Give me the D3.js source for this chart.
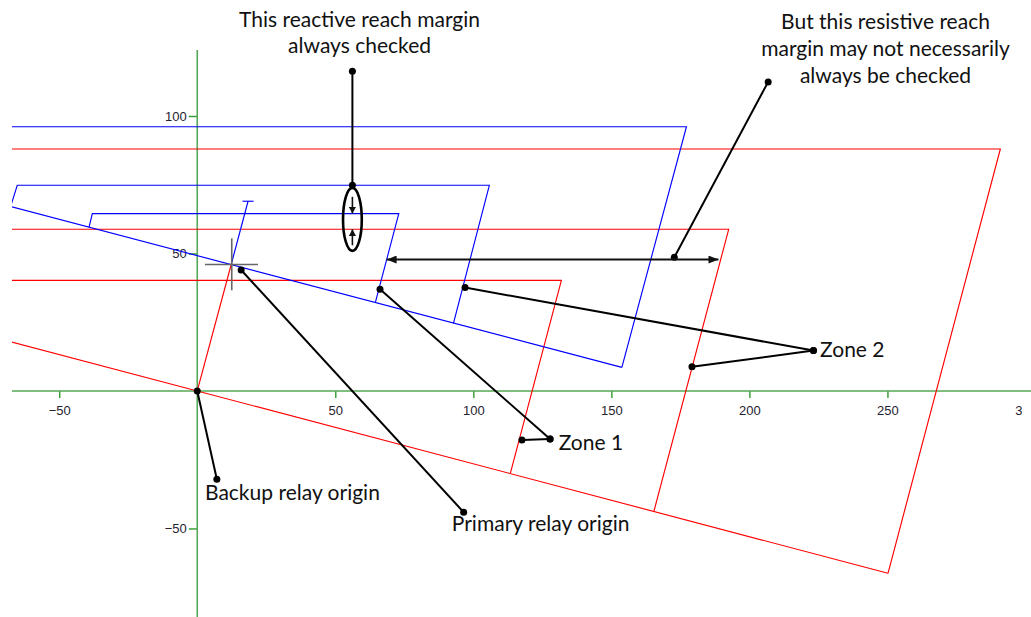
<!DOCTYPE html>
<html><head><meta charset="utf-8">
<script src="https://cdn.jsdelivr.net/npm/d3@7"></script>
<style>body{margin:0;background:#fff;} svg{display:block;}</style>
</head><body><svg id="c" width="1031" height="617"></svg>
<script>
// ---------------- data (impedance plane, ohms) ----------------
const xTickValues = [-50, 50, 100, 150, 200, 250, 300];
const yTickValues = [100, 50, -50];

const backupOrigin = [0, 0];
const primaryOrigin = [12.3, 46];

// backup relay characteristics (red)
const redDirectional = [[-70, 18.55], [250.2, -66.3]];
const redZone1 = [[-70, 40.2], [131.9, 40.2], [113.4, -30.0]];
const redZone2 = [[-70, 58.8], [192.5, 58.8], [165.4, -43.8]];
const redZone3 = [[-70, 88.0], [290.9, 88.0], [250.2, -66.3]];
const redLineImpedance = [[0, 0], [12.3, 46]];

// primary relay characteristics (blue)
const blueDirectional = [[-70, 67.7], [153.8, 8.6]];
const blueZone1 = [[-39.2, 59.5], [-38.0, 64.5], [73.0, 64.5], [64.5, 32.1]];
const blueZone2 = [[-67.6, 67.1], [-65.2, 74.8], [105.8, 74.8], [92.8, 24.6]];
const blueZone3 = [[-70, 96.1], [177.2, 96.1], [153.8, 8.6]];
const blueLineImpedance = [[12.3, 46], [18.4, 69.0]];
const blueLineEndCap = [[16.4, 69.0], [20.4, 69.0]];

// relay origin marker
const crossH = [[2.8, 46], [22.0, 46]];
const crossV = [[12.5, 55.5], [12.5, 36.6]];

// ---------------- annotations (in data coordinates) ----------------
const calloutSegments = [
  [[56.2, 116.3], [56.2, 74.8]],
  [[206.8, 112.4], [172.8, 48.6]],
  [[223.2, 14.7], [97.0, 37.6]],
  [[223.2, 14.7], [179.2, 8.8]],
  [[127.8, -17.5], [66.2, 37.0]],
  [[127.8, -17.5], [117.6, -17.8]],
  [[0, 0], [7.1, -32.1]],
  [[15.9, 44.0], [96.5, -44.1]]
];
const resistiveMarginArrow = [[68.6, 47.8], [188.8, 47.8]];
const reactiveArrowDown = [[56.2, 70.6], [56.2, 64.5]];
const reactiveArrowUp = [[56.2, 53.0], [56.2, 58.8]];
const reactiveEllipseCenter = [56.2, 62.4];
const reactiveEllipseRadii = [3.4, 11.45];

const calloutTexts = [
  {lines: ["This reactive reach margin", "always checked"], at: [58.8, 132.5], anchor: "middle"},
  {lines: ["But this resistive reach", "margin may not necessarily", "always be checked"], at: [249.3, 131.5], anchor: "middle"},
  {lines: ["Zone 2"], at: [225.6, 12.5], anchor: "start"},
  {lines: ["Zone 1"], at: [130.9, -21.5], anchor: "start"},
  {lines: ["Backup relay origin"], at: [2.8, -39.6], anchor: "start"},
  {lines: ["Primary relay origin"], at: [92.2, -51.1], anchor: "start"}
];

// ---------------- drawing ----------------
const W = 1031, H = 617;
const svg = d3.select("#c");
const x = d3.scaleLinear().domain([-67.1, 302]).range([12, 1031]);
const y = d3.scaleLinear().domain([-82.2, 124]).range([617, 50]);
const line = d3.line().x(d => x(d[0])).y(d => y(d[1]));

const defs = svg.append("defs");
defs.append("clipPath").attr("id", "plot").append("rect")
  .attr("x", 12).attr("y", 0).attr("width", W - 12).attr("height", H);
defs.append("clipPath").attr("id", "lab").append("rect")
  .attr("x", 0).attr("y", 0).attr("width", 1022).attr("height", H);

function mk(id, w, h) {
  defs.append("marker").attr("id", id)
    .attr("viewBox", `0 0 ${w} ${h}`).attr("refX", w).attr("refY", h / 2)
    .attr("markerWidth", w).attr("markerHeight", h)
    .attr("markerUnits", "userSpaceOnUse").attr("orient", "auto-start-reverse")
    .append("path").attr("d", `M0,0L${w},${h / 2}L0,${h}Z`).attr("fill", "#111");
}
mk("ah", 10, 8);
mk("ahs", 7, 7.5);

// axes
const axisColor = "#56a856";
const tickColor = "#2f9a2f";
const gx = svg.append("g").attr("transform", `translate(0,${y(0)})`).attr("clip-path", "url(#lab)")
  .call(d3.axisBottom(x).tickValues(xTickValues).tickSize(7).tickSizeOuter(0).tickPadding(7.5).tickFormat(d3.format("d")));
const gy = svg.append("g").attr("transform", `translate(${x(0)},0)`)
  .call(d3.axisLeft(y).tickValues(yTickValues).tickSize(8.5).tickSizeOuter(0).tickPadding(2).tickFormat(d3.format("d")));
[gx, gy].forEach(g => {
  g.select(".domain").remove();
  g.selectAll(".tick line").attr("stroke", tickColor).attr("stroke-width", 1.4);
  g.selectAll(".tick text").attr("fill", "#1f2230")
    .style("font-family", "'Liberation Sans', Arial, sans-serif").style("font-size", "13px");
});
svg.append("line").attr("x1", 12).attr("x2", W).attr("y1", y(0)).attr("y2", y(0))
  .attr("stroke", axisColor).attr("stroke-width", 1.6);
svg.append("line").attr("x1", x(0)).attr("x2", x(0)).attr("y1", y(124)).attr("y2", H)
  .attr("stroke", axisColor).attr("stroke-width", 1.6);

const plot = svg.append("g").attr("clip-path", "url(#plot)");
function path(g, pts, color, w) {
  return g.append("path").attr("d", line(pts)).attr("fill", "none")
    .attr("stroke", color).attr("stroke-width", w || 1.15).attr("stroke-linejoin", "miter");
}
const red = "#ff0000", blue = "#0000ff";
[redDirectional, redZone1, redZone2, redZone3, redLineImpedance].forEach(p => path(plot, p, red));
[blueDirectional, blueZone1, blueZone2, blueZone3, blueLineImpedance, blueLineEndCap].forEach(p => path(plot, p, blue));
[crossH, crossV].forEach(p => path(plot, p, "#666666", 1.6));

// annotations
const ann = svg.append("g");
calloutSegments.forEach(s => path(ann, s, "#000", 2));
const dots = calloutSegments.flat();
ann.selectAll("circle.dot").data(dots).join("circle").attr("class", "dot")
  .attr("cx", d => x(d[0])).attr("cy", d => y(d[1])).attr("r", 3.5).attr("fill", "#000");

path(ann, resistiveMarginArrow, "#111", 2).attr("marker-start", "url(#ah)").attr("marker-end", "url(#ah)");
path(ann, reactiveArrowDown, "#111", 1.6).attr("marker-end", "url(#ahs)");
path(ann, reactiveArrowUp, "#111", 1.6).attr("marker-end", "url(#ahs)");
ann.append("ellipse")
  .attr("cx", x(reactiveEllipseCenter[0])).attr("cy", y(reactiveEllipseCenter[1]))
  .attr("rx", x(reactiveEllipseCenter[0] + reactiveEllipseRadii[0]) - x(reactiveEllipseCenter[0]))
  .attr("ry", y(reactiveEllipseCenter[1]) - y(reactiveEllipseCenter[1] + reactiveEllipseRadii[1]))
  .attr("fill", "none").attr("stroke", "#000").attr("stroke-width", 2.6);

// annotation text, sized to match label width
const annFont = "Lato, 'Open Sans', sans-serif";
const probe = svg.append("text").style("font-family", annFont).style("font-size", "100px").text("Backup relay origin");
const annSize = 100 * 175 / probe.node().getComputedTextLength();
probe.remove();
const lineGap = 26.6;
calloutTexts.forEach(t => {
  const te = ann.append("text").attr("text-anchor", t.anchor)
    .style("font-family", annFont).style("font-size", annSize + "px").attr("fill", "#111");
  t.lines.forEach((l, i) => te.append("tspan").attr("x", x(t.at[0])).attr("y", y(t.at[1]) + i * lineGap).text(l));
});
</script></body></html>
